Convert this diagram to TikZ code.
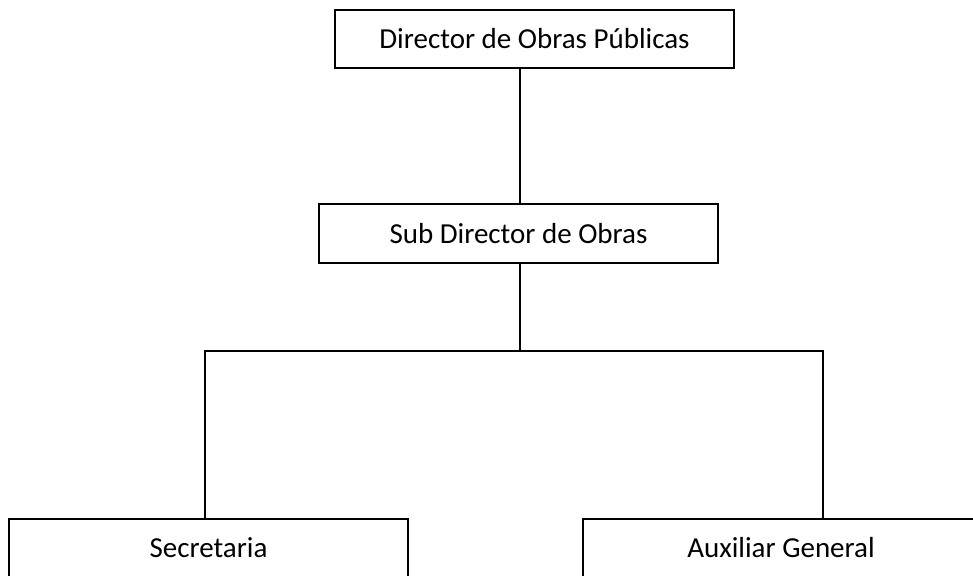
\documentclass[tikz,border=0pt]{standalone}
\usepackage{fontspec}
\setmainfont{Carlito}
\begin{document}
\begin{tikzpicture}[x=0.02cm,y=-0.02cm,
  cargo/.style={draw,line width=1.1pt,minimum height=1.17cm,inner sep=0pt,
    font=\fontsize{16.5}{20}\selectfont},
  enlace/.style={line width=0.9pt}]

  \useasboundingbox (0,0) rectangle (973,575);
  \clip (0,0) rectangle (973,575);

  % Cargos
  \node[cargo,minimum width=7.98cm] (dir) at (534.5,39) {Director de Obras Públicas};
  \node[cargo,minimum width=7.98cm] (subdir) at (518.5,233.5) {Sub Director de Obras};
  \node[cargo,minimum width=7.98cm] (secre) at (208.5,548) {Secretaria};
  \node[cargo,minimum width=7.92cm] (aux) at (781,548) {Auxiliar General};

  % Ramas
  \coordinate (tronco) at (520,351);
  \coordinate (izq) at (205,351);
  \coordinate (der) at (823,351);
  \draw[enlace] (tronco |- dir.south) -- (tronco |- subdir.north);
  \draw[enlace] (tronco |- subdir.south) -- (tronco);
  \draw[enlace] (izq |- secre.north) -- (izq) -- (der) -- (der |- aux.north);
\end{tikzpicture}
\end{document}
